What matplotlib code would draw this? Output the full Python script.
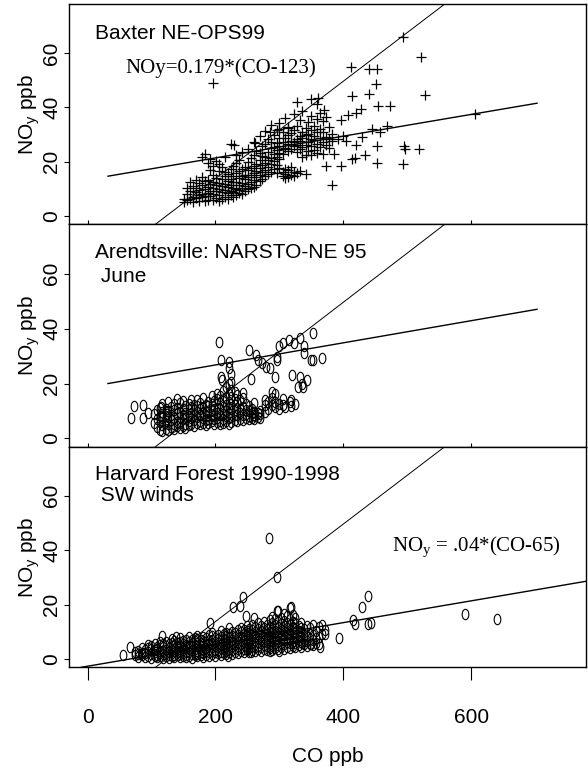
import numpy as np
import matplotlib
matplotlib.use("Agg")
import matplotlib.pyplot as plt
from matplotlib.path import Path

plt.rcParams["font.family"] = ["Liberation Sans", "DejaVu Sans"]

# ---- data ----------------------------------------------------------------
# Baxter NE-OPS99 : dense part as columns of CO with several NOy values
baxter_co_cols = [151, 156, 160, 165, 169, 174, 179, 183, 188, 192, 197, 201,
                  206, 210, 215, 219, 224, 228, 233, 237, 242, 246, 251, 255,
                  260, 264, 269, 273, 278, 282, 287, 291, 296, 300, 305, 309,
                  314, 318, 323, 327, 332, 336, 341, 345, 350, 354, 359, 363,
                  368, 373, 378, 383]
baxter_noy_cols = [
    [5.2, 6.4], [5.8, 8.1, 10.3], [6.3, 9.4, 12.7], [5.1, 7.2, 11.1],
    [6.6, 8.7, 10.2, 13.4], [5.7, 7.9, 9.6, 12.1], [6.9, 8.3, 11.6, 14.2, 21.8],
    [5.4, 7.4, 9.9, 12.8, 22.9], [6.1, 8.6, 10.7, 13.3, 19.5],
    [7.3, 9.2, 11.9, 16.8, 21.1], [5.9, 8.0, 10.4, 12.6, 15.2, 18.3],
    [6.8, 9.1, 11.3, 14.1, 20.4], [5.5, 7.7, 9.8, 12.2, 16.7, 19.1],
    [6.4, 8.9, 10.9, 13.6, 17.9], [7.1, 9.5, 11.8, 14.8, 16.1, 21.7],
    [6.2, 8.4, 10.6, 12.9, 15.4], [7.6, 9.3, 11.5, 13.8, 17.3, 26.5],
    [6.9, 8.8, 10.2, 12.4, 14.9, 18.6], [7.8, 10.1, 12.7, 15.8, 19.7, 22.4],
    [8.5, 9.7, 11.4, 13.9, 16.6, 20.8], [8.1, 10.5, 12.2, 14.6, 17.4, 23.5],
    [9.2, 11.1, 13.5, 15.3, 18.2], [9.9, 11.7, 14.3, 16.9, 19.8, 24.6],
    [10.4, 12.6, 15.1, 17.7, 21.3], [10.8, 13.2, 15.9, 18.4, 22.6, 27.1],
    [11.6, 14.4, 16.5, 19.3, 24.1], [12.9, 15.2, 17.8, 20.6, 23.2, 29.4],
    [13.7, 16.3, 18.9, 22.1, 25.8], [14.8, 17.1, 19.6, 21.9, 26.7, 31.2],
    [15.6, 18.2, 20.8, 23.7, 28.3], [16.4, 19.1, 21.3, 24.9, 27.4, 33.6],
    [17.2, 20.3, 22.7, 25.5, 29.9], [15.9, 18.7, 21.6, 24.2, 26.8, 31.5],
    [17.8, 20.9, 23.3, 25.9, 28.6, 34.4], [14.7, 16.2, 22.8, 24.7, 27.3, 30.8],
    [13.9, 15.6, 17.4, 25.1, 28.9, 36.2], [14.3, 16.8, 23.9, 26.4, 29.7, 32.9],
    [15.2, 17.9, 24.5, 27.8, 30.6], [14.6, 16.4, 25.6, 27.2, 31.8, 37.4],
    [15.8, 23.4, 26.1, 28.4, 33.1, 42.1], [16.6, 24.8, 27.6, 29.3, 35.2],
    [21.9, 25.3, 28.7, 30.9, 38.6], [15.4, 22.6, 26.2, 29.8, 32.4],
    [23.8, 27.1, 30.3, 34.7], [22.4, 25.9, 28.2, 31.6, 36.9, 43.2],
    [24.3, 27.9, 29.6, 33.3], [23.1, 26.6, 30.8, 35.8, 41.3],
    [25.4, 28.8, 32.2, 38.1], [22.7, 27.3, 31.1, 34.9], [18.3, 26.2, 29.2, 36.4],
    [24.9, 28.4, 32.7], [27.7, 30.2]]
baxter_co_extra = [197, 493, 521, 528, 606, 383, 412, 440, 452, 451, 413, 440,
                   473, 455, 495, 496, 494, 518, 434, 452, 452, 413, 418, 396,
                   468, 457, 391, 400, 405, 396, 408, 420, 428, 386, 420, 430,
                   445, 229, 262, 285, 300, 314, 361, 370]
baxter_noy_extra = [49, 65.9, 58.5, 44.4, 37.7, 11.4, 55, 54, 54, 48.5, 44, 45,
                    40.4, 40.4, 25.7, 24.5, 19.3, 24.5, 22.6, 25.7, 19.6, 21,
                    21.4, 18.4, 33, 31, 28.2, 29.4, 27.5, 35.5, 37.3, 37.9, 39.5,
                    23, 26, 29, 32, 26.3, 27, 31, 32, 32.4, 43.5, 39]

# Arendtsville NARSTO-NE 95, June
arend_co_cols = [104, 108, 113, 117, 122, 126, 131, 135, 140, 144, 149, 153,
                 158, 162, 167, 171, 176, 180, 185, 189, 194, 198, 203, 207,
                 212, 216, 221, 225, 230, 234, 239, 243, 248, 252, 257, 261,
                 266, 270, 278, 283, 288, 294, 300, 306, 318, 325]
arend_noy_cols = [
    [5.6, 8.8], [4.2, 7.1, 10.4], [3.1, 5.9, 8.3, 11.2], [2.7, 4.8, 7.4, 9.6, 12.6],
    [3.6, 6.2, 8.1, 10.9], [2.9, 5.3, 7.7, 9.9, 13.1], [4.1, 6.6, 8.7, 11.6],
    [3.3, 5.1, 7.3, 10.2, 12.4], [4.4, 6.1, 8.9, 11.1, 14.2],
    [3.8, 5.7, 7.9, 9.6, 12.8], [4.7, 6.9, 8.4, 10.7, 13.6],
    [3.9, 5.4, 7.6, 9.3, 11.9], [4.9, 6.4, 8.2, 10.8, 12.7],
    [5.2, 7.3, 9.1, 11.4, 14.1], [4.6, 6.7, 8.5, 10.3, 12.2],
    [5.5, 7.8, 9.7, 11.8, 13.9], [5.1, 6.3, 8.6, 10.6, 12.9],
    [5.8, 7.5, 9.4, 11.3, 14.6], [4.8, 6.8, 8.3, 10.1, 12.3],
    [5.6, 7.2, 9.8, 11.7, 13.4], [6.2, 8.1, 10.4, 12.6, 15.3],
    [5.3, 6.9, 8.7, 10.9, 13.8], [5.9, 7.6, 9.2, 11.2, 14.4, 16.2],
    [5.1, 6.5, 8.4, 10.6, 12.9, 15.6], [5.7, 7.1, 8.9, 11.5, 13.7, 17.1],
    [6.4, 8.2, 10.1, 12.3, 14.8, 18.6], [5.4, 7.4, 9.3, 11.1, 13.4, 16.3, 19.8],
    [6.1, 7.9, 10.6, 12.7, 15.1, 17.7, 20.4], [6.7, 8.6, 10.3, 12.1, 14.2, 16.9],
    [6.3, 8.4, 11.2, 13.3, 15.7], [7.2, 9.1, 10.9, 13.9],
    [6.8, 8.7, 11.6, 14.7, 16.4], [7.4, 8.9, 10.2, 12.4], [6.9, 8.3, 9.9, 11.8],
    [7.6, 9.4, 10.7], [7.1, 8.6, 9.8, 12.9], [7.8, 9.2], [7.3, 8.8, 10.1],
    [9.6, 12.3, 14.1], [10.8, 13.4], [12.2, 14.9, 16.8], [11.3, 13.2, 16.1],
    [10.6, 12.7], [12.1, 14.3], [11.8, 13.9], [12.4]]
arend_co_extra = [68, 72, 87, 87, 95, 115, 121, 115, 124, 206, 209, 222, 224,
                  209, 211, 221, 253, 255, 264, 267, 273, 279, 285, 294, 297,
                  300, 305, 315, 323, 332, 338, 353, 338, 350, 366, 353, 320,
                  332, 335, 344, 337, 329, 297, 317, 309, 262]
arend_noy_extra = [7.4, 11.7, 12.3, 7.4, 9.1, 11.3, 5.8, 8.3, 8.9, 35, 28.6, 28,
                   23.6, 22.4, 21.2, 25.5, 32.3, 21.8, 30.4, 28.6, 27.3, 26.1,
                   25.5, 22.4, 29.8, 33.5, 34.7, 36, 34.7, 36.6, 33.5, 38.4, 31,
                   28.6, 29.2, 28.6, 23, 22.4, 20, 21.2, 18.7, 18.7, 28.6, 13.2,
                   11.3, 8.3]

# Harvard Forest 1990-1998, SW winds
harv_co_cols = [74, 79, 85, 90, 95, 100, 105, 109, 114, 118, 123, 127, 132,
                136, 141, 145, 150, 154, 159, 163, 168, 172, 177, 181, 186, 190,
                195, 199, 204, 208, 213, 217, 222, 226, 231, 235, 240, 244, 249,
                253, 258, 262, 267, 271, 276, 280, 285, 289, 294, 298, 303, 307,
                312, 316, 321, 325, 330, 334, 339, 343, 348, 352, 357, 362, 367,
                372]
harv_noy_cols = [
    [1.4, 2.7], [0.9, 3.1, 2.0], [1.6, 2.4, 4.2], [0.8, 2.1, 3.4],
    [1.2, 2.8, 4.1, 5.3], [0.6, 1.9, 3.6, 4.8], [1.1, 2.5, 3.2, 5.6],
    [0.7, 1.6, 3.9, 4.6], [1.3, 2.2, 3.1, 5.1, 6.2], [0.5, 1.8, 2.9, 4.3, 5.7],
    [1.0, 2.4, 3.5, 4.9, 6.4], [0.6, 1.5, 2.7, 4.1, 5.5],
    [1.2, 2.1, 3.3, 4.7, 6.1, 7.3], [0.8, 1.7, 2.9, 3.8, 5.2, 6.6],
    [1.4, 2.5, 3.6, 4.4, 5.9], [0.7, 1.9, 3.1, 4.9, 6.3, 7.6],
    [1.1, 2.3, 3.4, 4.2, 5.6, 6.8], [0.9, 1.6, 2.8, 4.6, 5.3, 7.2],
    [1.3, 2.6, 3.7, 5.0, 6.2, 8.1], [0.6, 2.0, 3.2, 4.4, 5.8, 6.9],
    [1.5, 2.4, 3.9, 5.3, 6.5, 7.7], [1.0, 1.8, 3.0, 4.7, 5.9, 7.4, 8.6],
    [1.4, 2.7, 3.6, 4.9, 6.1, 7.0], [0.8, 2.2, 3.3, 5.4, 6.7, 8.2],
    [1.6, 2.9, 4.1, 5.1, 6.4, 7.8], [1.2, 2.5, 3.8, 5.7, 7.1, 8.9],
    [1.9, 3.1, 4.4, 5.5, 6.9, 8.4, 9.7], [1.3, 2.6, 3.5, 4.8, 6.3, 7.6],
    [2.1, 3.3, 4.6, 5.9, 7.3, 8.8], [1.5, 2.8, 4.0, 5.2, 6.6, 8.0, 10.2],
    [2.4, 3.6, 4.9, 6.1, 7.5, 9.1], [1.8, 3.0, 4.3, 5.6, 6.9, 8.4, 9.6],
    [2.6, 3.9, 5.1, 6.4, 7.7, 9.3, 11.4], [2.0, 3.4, 4.7, 5.8, 7.2, 8.6, 10.1],
    [2.8, 4.1, 5.4, 6.7, 8.0, 9.5], [2.3, 3.7, 5.0, 6.3, 7.6, 9.0, 10.8],
    [3.0, 4.3, 5.6, 6.9, 8.3, 9.8, 11.6], [2.5, 3.9, 5.3, 6.5, 7.8, 9.4, 10.6],
    [3.2, 4.6, 5.9, 7.3, 8.7, 10.3, 12.1], [2.7, 4.1, 5.5, 6.8, 8.2, 9.6, 11.2],
    [3.4, 4.8, 6.1, 7.6, 9.0, 10.7, 12.6], [2.9, 4.3, 5.7, 7.1, 8.5, 10.0, 11.8],
    [3.6, 5.0, 6.4, 7.9, 9.3, 11.1, 13.2], [3.1, 4.5, 6.0, 7.4, 8.8, 10.4, 12.3],
    [3.8, 5.3, 6.7, 8.2, 9.7, 11.5, 13.8], [3.3, 4.7, 6.2, 7.7, 9.2, 10.9, 12.7],
    [4.0, 5.5, 7.0, 8.5, 10.1, 11.9, 14.4],
    [3.5, 5.0, 6.5, 8.0, 9.6, 11.3, 13.1, 15.6],
    [4.2, 5.8, 7.3, 8.9, 10.5, 12.4, 14.8],
    [3.7, 5.2, 6.8, 8.4, 10.0, 11.8, 13.6, 17.5],
    [4.4, 6.0, 7.6, 9.2, 10.9, 12.8, 15.2],
    [3.9, 5.5, 7.1, 8.7, 10.4, 12.2, 14.1, 16.4],
    [4.6, 6.3, 7.9, 9.6, 11.3, 13.3, 15.8],
    [4.1, 5.8, 7.4, 9.1, 10.8, 12.7, 14.6, 18.9],
    [4.8, 6.6, 8.2, 10.0, 11.7, 13.8, 16.2],
    [4.3, 6.1, 7.7, 9.5, 11.2, 13.1, 15.1], [5.1, 6.9, 8.6, 10.3, 12.2],
    [4.6, 6.4, 8.1, 9.8, 11.6, 13.4], [5.4, 7.2, 9.0, 10.9],
    [4.9, 6.8, 8.5, 12.3], [5.7, 7.5, 9.4, 11.4], [5.2, 7.0, 8.9, 12.5],
    [6.0, 7.9, 10.2], [5.5, 8.3, 11.7], [9.1, 12.4], [10.6]]
harv_co_extra = [284, 297, 248, 238, 228, 242.5, 192, 260, 318, 297, 117, 139,
                 67, 56, 394, 416, 419, 430, 439, 439, 443, 591, 641, 371, 363.5,
                 350, 335, 320, 300, 285, 255, 220]
harv_noy_extra = [44.6, 30.1, 15.7, 19.4, 19, 22.9, 13.2, 15.2, 19.2, 17.5, 8.4,
                  8, 4.3, 1.6, 7.7, 14.2, 12.9, 19.2, 23.3, 12.9, 13.1, 16.5,
                  14.8, 9.3, 4.6, 5.5, 5.8, 6.1, 3.1, 3.1, 2.5, 1.2]

# regression lines
steep_slope, steep_co0 = 0.179, 123          # NOy = 0.179*(CO-123)
baxter_fit = (0.040, 13.4, 32, 703)          # slope, intercept, CO range
arend_fit = (0.0403, 18.7, 32, 703)
harv_slope, harv_co0 = 0.04, 65              # NOy = .04*(CO-65)


def expand(cols, vals, co_extra, noy_extra):
    x = [c for c, v in zip(cols, vals) for _ in v] + list(co_extra)
    y = [yy for v in vals for yy in v] + list(noy_extra)
    return np.array(x, float), np.array(y, float)


co1, noy1 = expand(baxter_co_cols, baxter_noy_cols, baxter_co_extra, baxter_noy_extra)
co2, noy2 = expand(arend_co_cols, arend_noy_cols, arend_co_extra, arend_noy_extra)
co3, noy3 = expand(harv_co_cols, harv_noy_cols, harv_co_extra, harv_noy_extra)

# tall open ellipse like R's pch=1 on this device
circ = Path.unit_circle()
ellipse = Path(circ.vertices * [0.64, 1.0], circ.codes)

# ── Plot ───────────────────────────────────────────────
fig = plt.figure(figsize=(5.88, 7.72), dpi=100)
left, right = 0.1173, 0.997
bounds = [(0.7095, 0.9948), (0.4214, 0.7095), (0.1356, 0.4214)]
axes = [fig.add_axes([left, b, right - left, t - b]) for b, t in bounds]

sans = 15
for i, ax in enumerate(axes):
    ax.set_xlim(-29, 780)
    ax.set_ylim(-3.0, 78.0)
    ax.set_yticks([0, 20, 40, 60])
    ax.set_yticklabels(["0", "20", "40", "60"], rotation=90, va="center")
    ax.set_xticks([0, 200, 400, 600])
    ax.tick_params(axis="y", direction="out", length=3.4, width=0.8,
                   pad=2, labelsize=sans)
    if i < 2:
        ax.tick_params(axis="x", direction="in", length=3, width=0.8,
                       labelbottom=False)
    else:
        ax.tick_params(axis="x", direction="out", length=9.5, width=0.8,
                       pad=20, labelsize=sans)
    for s in ax.spines.values():
        s.set_linewidth(1.0)
    ax.text(-0.077, 0.5, "NO$_\\mathdefault{y}$ ppb", transform=ax.transAxes,
            rotation=90, ha="center", va="center", fontsize=sans)
    # steep line drawn in every panel
    ax.axline((steep_co0, 0), slope=steep_slope, color="k", lw=0.7)

ax1, ax2, ax3 = axes

ax1.plot(co1, noy1, ls="none", marker="+", ms=7, mew=0.9, color="k")
s, b, x0, x1 = baxter_fit
xs = np.array([x0, x1])
ax1.plot(xs, b + s * xs, color="k", lw=1.0)
ax1.text(0.05, 0.868, "Baxter NE-OPS99", transform=ax1.transAxes,
         ha="left", va="center", fontsize=sans)
ax1.text(59, 54.5, "NOy=0.179*(CO-123)", ha="left", va="center",
         fontsize=15, family=["Liberation Serif"])

ax2.plot(co2, noy2, ls="none", marker=ellipse, ms=7.5, mfc="none",
         mec="k", mew=0.8)
s, b, x0, x1 = arend_fit
ax2.plot(xs, b + s * xs, color="k", lw=1.0)
ax2.text(0.05, 0.871, "Arendtsville: NARSTO-NE 95", transform=ax2.transAxes,
         ha="left", va="center", fontsize=sans)
ax2.text(0.05, 0.765, " June", transform=ax2.transAxes,
         ha="left", va="center", fontsize=sans)

ax3.plot(co3, noy3, ls="none", marker=ellipse, ms=7.5, mfc="none",
         mec="k", mew=0.8)
ax3.axline((harv_co0, 0), slope=harv_slope, color="k", lw=1.0)
ax3.text(0.05, 0.872, "Harvard Forest 1990-1998", transform=ax3.transAxes,
         ha="left", va="center", fontsize=sans)
ax3.text(0.05, 0.777, " SW winds", transform=ax3.transAxes,
         ha="left", va="center", fontsize=sans)
ax3.text(476, 41, "NO$_\\mathdefault{y}$ = .04*(CO-65)", ha="left",
         va="center", fontsize=15, family=["Liberation Serif"])
ax3.set_xlabel("CO ppb", fontsize=sans, labelpad=14)

fig.savefig("out.png", dpi=100)
plt.close(fig)
